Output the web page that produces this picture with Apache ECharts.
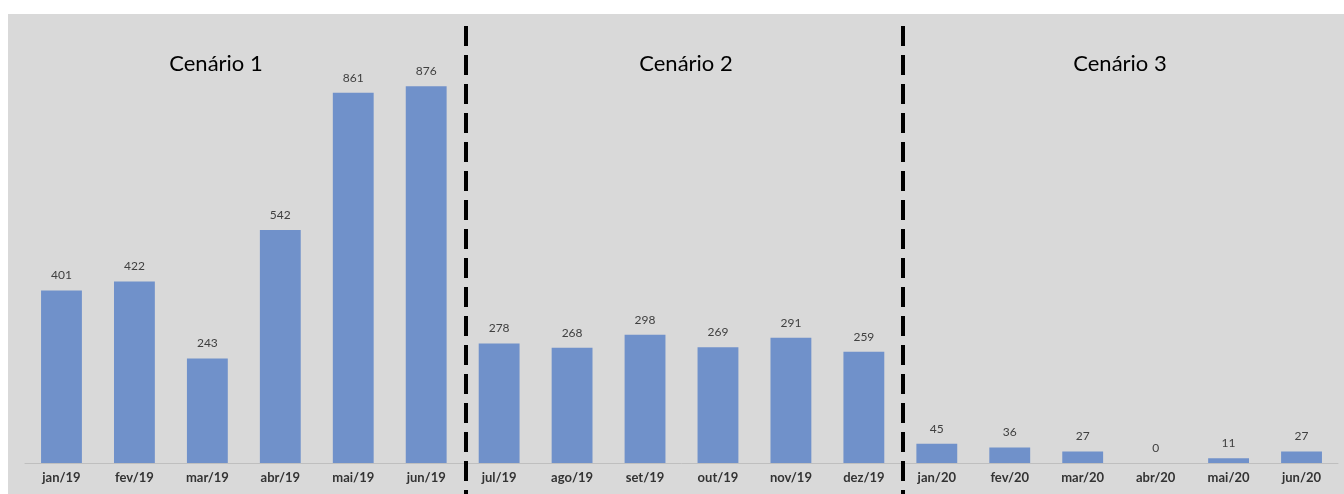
<!DOCTYPE html>
<html>
<head>
<meta charset="utf-8">
<script src="https://cdn.jsdelivr.net/npm/echarts@6/dist/echarts.min.js"></script>
<style>
  html, body { margin: 0; padding: 0; background: #fff; }
  #chart { width: 1344px; height: 494px; }
</style>
</head>
<body>
<div id="chart"></div>
<script>
// months shown on the x axis
const months = [
    'jan/19', 'fev/19', 'mar/19', 'abr/19', 'mai/19', 'jun/19',
    'jul/19', 'ago/19', 'set/19', 'out/19', 'nov/19', 'dez/19',
    'jan/20', 'fev/20', 'mar/20', 'abr/20', 'mai/20', 'jun/20'
];
// monthly counts
const counts = [401, 422, 243, 542, 861, 876, 278, 268, 298, 269, 291, 259, 45, 36, 27, 0, 11, 27];
// scenario titles
const scenarios = ['Cenário 1', 'Cenário 2', 'Cenário 3'];
// separators sit between these category indexes
const breaks = [5, 11];

const chart = echarts.init(document.getElementById('chart'));

let option = {
    animation: false,
    textStyle: { fontFamily: 'Lato' },
    title: [
        { text: scenarios[0], left: 211, top: 48, textAlign: 'center' },
        { text: scenarios[1], left: 681, top: 48, textAlign: 'center' },
        { text: scenarios[2], left: 1115, top: 48, textAlign: 'center' }
    ].map(function (t) {
        t.textStyle = { fontFamily: 'Lato', fontSize: 22, fontWeight: 'normal', color: '#000' };
        return t;
    }),
    grid: { left: 25, right: 6, top: 33, bottom: 31 },
    xAxis: {
        type: 'category',
        data: months,
        axisLine: { lineStyle: { color: '#bfbfbf', width: 1 } },
        axisTick: { show: false },
        axisLabel: {
            margin: 8,
            fontFamily: 'Lato',
            fontSize: 13,
            fontWeight: 'bold',
            color: '#333'
        }
    },
    yAxis: {
        type: 'value',
        min: 0,
        max: 1000,
        show: false,
        splitLine: { show: false }
    },
    series: [
        {
            type: 'bar',
            data: counts,
            barCategoryGap: '44%',
            itemStyle: { color: '#7091ca' },
            label: {
                show: true,
                position: 'top',
                distance: 9,
                fontFamily: 'Lato',
                fontSize: 12,
                color: '#404040'
            }
        }
    ]
};

chart.setOption(option);

// grey plot background plus dashed scenario separators
let graphics = [
    {
        type: 'rect',
        z: -10,
        silent: true,
        shape: { x: 8, y: 14, width: 1344 - 8, height: 494 - 14 },
        style: { fill: '#d9d9d9' }
    }
];
breaks.forEach(function (i) {
    let a = chart.convertToPixel({ xAxisIndex: 0 }, months[i]);
    let b = chart.convertToPixel({ xAxisIndex: 0 }, months[i + 1]);
    let x = Math.round((a + b) / 2) + 3;
    graphics.push({
        type: 'line',
        z: 10,
        silent: true,
        shape: { x1: x, y1: 26, x2: x, y2: 494 },
        style: { stroke: '#000', lineWidth: 4, lineDash: [20, 9] }
    });
});
chart.setOption({ graphic: graphics });
</script>
</body>
</html>
